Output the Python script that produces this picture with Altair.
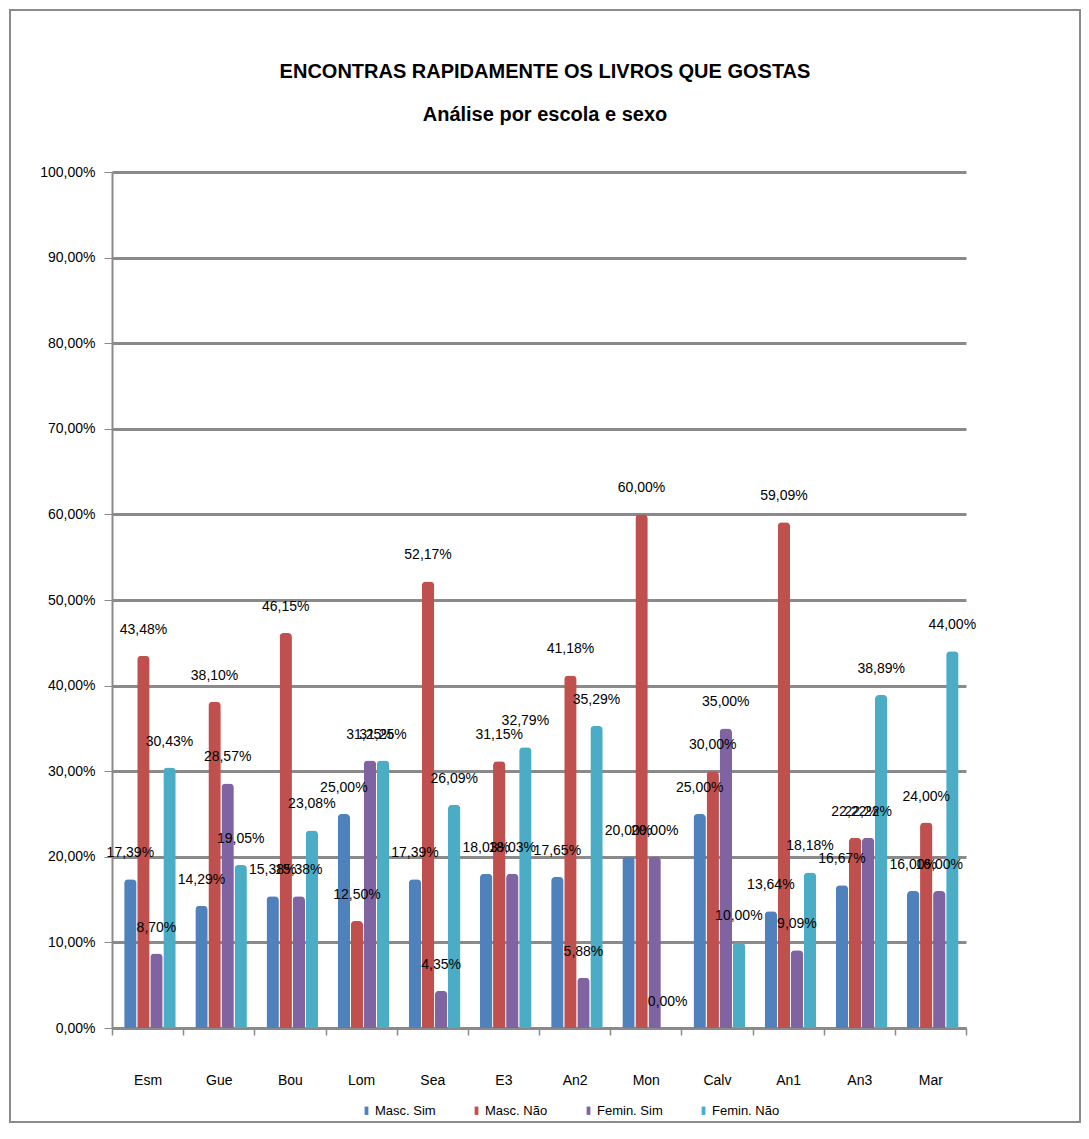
import altair as alt
import pandas as pd

schools = ["Esm", "Gue", "Bou", "Lom", "Sea", "E3", "An2", "Mon", "Calv", "An1", "An3", "Mar"]
series = ["Masc. Sim", "Masc. Não", "Femin. Sim", "Femin. Não"]
masc_sim = [17.39, 14.29, 15.38, 25.00, 17.39, 18.03, 17.65, 20.00, 25.00, 13.64, 16.67, 16.00]
masc_nao = [43.48, 38.10, 46.15, 12.50, 52.17, 31.15, 41.18, 60.00, 30.00, 59.09, 22.22, 24.00]
femin_sim = [8.70, 28.57, 15.38, 31.25, 4.35, 18.03, 5.88, 20.00, 35.00, 9.09, 22.22, 16.00]
femin_nao = [30.43, 19.05, 23.08, 31.25, 26.09, 32.79, 35.29, 0.00, 10.00, 18.18, 38.89, 44.00]
colors = ["#4F81BD", "#C0504D", "#8064A2", "#4BACC6"]
title_lines = ["ENCONTRAS RAPIDAMENTE OS LIVROS QUE GOSTAS", "Análise por escola e sexo"]

rows = []
for s_name, vals in zip(series, [masc_sim, masc_nao, femin_sim, femin_nao]):
    for sch, v in zip(schools, vals):
        rows.append({"school": sch, "series": s_name, "value": v})
df = pd.DataFrame(rows)

FONT = "Liberation Sans, Arial, sans-serif"
GRID = "#8a8a8a"

x_enc = alt.X(
    "school:N", sort=schools, title=None,
    scale=alt.Scale(paddingInner=0, paddingOuter=0),
    axis=alt.Axis(labelAngle=0, labelPadding=38, tickBand="extent", tickSize=7,
                  domainColor=GRID, domainWidth=3, tickColor=GRID, tickWidth=1.5,
                  labelFont=FONT, labelFontSize=14, labelColor="black"),
)
xo_enc = alt.XOffset("series:N", sort=series,
                     scale=alt.Scale(paddingInner=0.05, paddingOuter=0.75, align=0.62))
y_enc = alt.Y(
    "value:Q", title=None,
    scale=alt.Scale(domain=[0, 100], nice=False),
    axis=alt.Axis(values=list(range(0, 101, 10)),
                  labelExpr="replace(format(datum.value, '.2f'), '.', ',') + '%'",
                  gridColor=GRID, gridWidth=3, domainColor=GRID, domainWidth=2,
                  tickColor=GRID, tickSize=8, labelPadding=9,
                  labelFont=FONT, labelFontSize=14, labelColor="black"),
)

base = alt.Chart(df)

bars = base.mark_bar(cornerRadiusTopLeft=4, cornerRadiusTopRight=4).encode(
    x=x_enc, xOffset=xo_enc, y=y_enc,
    color=alt.Color(
        "series:N", sort=series, scale=alt.Scale(domain=series, range=colors),
        legend=alt.Legend(title=None, orient="none", legendX=248, legendY=932,
                          direction="horizontal", columns=4, columnPadding=34,
                          symbolType="M-0.45,-1L0.45,-1L0.45,1L-0.45,1Z", symbolSize=70,
                          labelFont=FONT, labelFontSize=13, labelColor="black",
                          symbolStrokeWidth=0, labelOffset=2),
    ),
)

labels = base.transform_calculate(
    lab="replace(format(datum.value, '.2f'), '.', ',') + '%'"
).mark_text(dy=-26, fontSize=14, font=FONT, color="black").encode(
    x=alt.X("school:N", sort=schools), xOffset=alt.XOffset("series:N", sort=series),
    y="value:Q", text="lab:N",
)

one = alt.Data(values=[{"a": 1}])

frame = alt.Chart(one).mark_rect(
    filled=False, stroke="#8a8a8a", strokeWidth=2, clip=False
).encode(
    x=alt.value(-102), x2=alt.value(968), y=alt.value(-162), y2=alt.value(950)
)

title1 = alt.Chart(one).mark_text(
    font=FONT, fontSize=20, fontWeight="bold", color="black", baseline="middle"
).encode(x=alt.value(433), y=alt.value(-100), text=alt.value(title_lines[0]))

title2 = alt.Chart(one).mark_text(
    font=FONT, fontSize=20, fontWeight="bold", color="black", baseline="middle"
).encode(x=alt.value(433), y=alt.value(-57), text=alt.value(title_lines[1]))

chart = alt.layer(frame, bars, labels, title1, title2).properties(
    width=854, height=856,
    autosize=alt.AutoSizeParams(type="none"),
    padding={"left": 104, "top": 164, "right": 115, "bottom": 95},
).configure_view(stroke=None)

chart.save("out.html", embed_options={"renderer": "svg", "actions": False})
